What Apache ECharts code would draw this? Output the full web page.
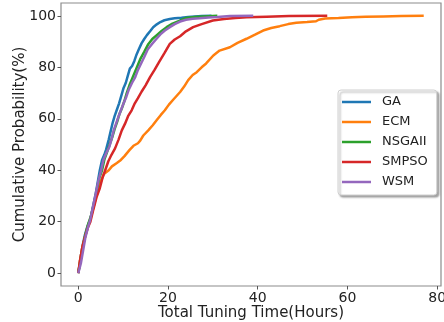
<!DOCTYPE html>
<html>
<head>
<meta charset="utf-8">
<script src="https://cdn.jsdelivr.net/npm/echarts@6/dist/echarts.min.js"></script>
<style>html,body{margin:0;padding:0;background:#fff}#c{width:444px;height:322px}</style>
</head>
<body>
<div id="c"></div>
<script>
const seriesNames = ['GA', 'ECM', 'NSGAII', 'SMPSO', 'WSM'];
const xTicks = [0, 20, 40, 60, 80];
const yTicks = [0, 20, 40, 60, 80, 100];

const gaData = [[0,0],[0.5,6],[1,11],[1.5,15],[2,18],[2.7,21],[3.3,26],[3.9,31],[4.4,36],[4.8,40],[5.3,44],[5.8,46],[6.2,48],[6.8,52],[7.2,55],[7.6,58],[8.1,61],[8.6,63.5],[9.1,66],[9.6,69],[10.1,72],[10.6,74],[11.0,76.5],[11.5,79.5],[12.0,80.5],[12.5,82.5],[13.0,85],[13.5,87],[14.1,89.3],[14.7,91],[15.3,92.5],[16,94],[16.7,95.6],[17.5,96.7],[18.3,97.6],[19.2,98.3],[20.4,98.8],[21.5,99.1],[23,99.3],[24.5,99.6],[26,99.8],[27.5,99.9],[29.7,100]];
const ecmData = [[0,0],[0.4,5],[0.9,10],[1.5,14],[2.1,18],[2.7,21],[3.3,25],[3.9,29],[4.5,33],[5.1,36],[5.7,38.5],[6.1,39],[6.8,40],[7.5,41.5],[8.6,42.8],[9.5,44],[10.3,45.5],[11.4,47.8],[12.3,49.5],[13.3,50.5],[13.8,51.5],[14.5,53.5],[15.6,55.5],[16.6,57.5],[17.5,59.5],[18.4,61.5],[19.3,63.3],[20.2,65.5],[21.2,67.5],[22.7,70.4],[23.6,72.5],[24.5,75],[25.5,77],[26.4,78.1],[27.5,80],[28.5,81.5],[30.1,84.6],[31.5,86.5],[33.8,87.8],[35.5,89.5],[37.5,91.1],[39.5,92.8],[41.2,94.3],[43,95.3],[44.9,96],[46.8,96.8],[48.6,97.3],[51,97.6],[53,97.9],[53.6,98.5],[55,99],[58,99.2],[61,99.5],[64,99.7],[68,99.8],[72,99.9],[77,100]];
const nsgaData = [[0,0],[0.5,5],[1,10],[1.6,15],[2.2,19],[2.8,22],[3.5,27],[4.1,32],[4.7,37],[5.3,40],[5.8,44],[6.4,47],[7,50],[7.6,53],[8.1,56],[8.7,59],[9.2,62],[9.7,64],[10.3,67],[10.8,70],[11.4,73],[12.1,76],[12.7,78.5],[13.3,81],[13.9,83.5],[14.7,86],[15.6,89],[16.5,91],[17.5,92.5],[18.5,94],[19.7,95.6],[21,97],[22.5,98],[24,99.2],[26,99.6],[28,99.8],[31,100]];
const smpsoData = [[0,0],[0.4,5],[0.9,10],[1.5,14],[2.1,17.5],[2.7,20],[3.4,25],[4.1,29.7],[4.8,33],[5.4,37],[6.0,40],[6.7,43.5],[7.4,46],[8.2,48.5],[9,52],[9.7,55.5],[10.4,58],[11.1,61],[11.9,63.3],[12.6,66],[13.3,68],[14.1,70.5],[15,73],[16,76.2],[17,79],[18,82],[19.2,85.5],[20.4,89.1],[21.5,90.8],[22.7,92.1],[24,94],[25.6,95.6],[27.5,96.8],[30,98.2],[32.5,98.8],[35,99.2],[37.5,99.5],[42,99.7],[47,99.9],[55.5,100]];
const wsmData = [[0,0],[0.6,4],[1.1,9],[1.6,14],[2.2,18],[2.7,21],[3.3,26],[3.9,31],[4.5,36],[5.1,40],[5.6,44],[6.2,46.5],[6.9,49],[7.4,52],[7.9,55.5],[8.5,58.5],[9,61],[9.5,63.3],[10.1,66],[10.7,68.5],[11.3,71.5],[12,74],[12.7,76.2],[13.3,79],[14,81.5],[14.7,84],[15.5,87],[16.4,89],[17.4,91],[18.3,92.8],[19.3,94.3],[20.4,95.6],[21.5,96.8],[22.7,97.8],[24,98.5],[25.5,98.9],[27,99.1],[29,99.4],[31,99.6],[33.8,99.9],[39,100]];

const allData = [gaData, ecmData, nsgaData, smpsoData, wsmData];
const colors = ['#1f77b4', '#ff7f0e', '#2ca02c', '#d62728', '#9467bd'];
const font = 'DejaVu Sans';

const chart = echarts.init(document.getElementById('c'), null, {renderer: 'canvas'});
chart.setOption({
  animation: false,
  backgroundColor: '#fff',
  color: colors,
  grid: {left: 61, right: 3, top: 3, bottom: 36, show: true, borderColor: '#8c8c8c', borderWidth: 1.2,
         backgroundColor: 'transparent', containLabel: false, outerBoundsMode: 'none'},
  legend: {
    orient: 'vertical', left: 338, top: 90,
    icon: 'rect', itemWidth: 29, itemHeight: 2.5, itemGap: 6,
    padding: [5, 9, 6, 4],
    backgroundColor: '#fff', borderColor: '#d0d0d0', borderWidth: 1, borderRadius: 3,
    shadowColor: 'rgba(0,0,0,0.35)', shadowBlur: 2, shadowOffsetX: 2, shadowOffsetY: 2,
    textStyle: {fontFamily: font, fontSize: 13, color: '#222', lineHeight: 14, padding: [0, 0, 0, 6]},
    data: seriesNames
  },
  xAxis: {
    type: 'value', min: -3.85, max: 80.85,
    name: 'Total Tuning Time(Hours)', nameLocation: 'middle', nameGap: 20, nameMoveOverlap: false,
    nameTextStyle: {fontFamily: font, fontSize: 15, color: '#222'},
    axisLine: {show: false, onZero: false},
    splitLine: {show: false},
    axisTick: {show: true, length: 3.5, lineStyle: {color: '#555'}, customValues: xTicks},
    axisLabel: {fontFamily: font, fontSize: 14, color: '#222', margin: 5, customValues: xTicks}
  },
  yAxis: {
    type: 'value', min: -5, max: 105,
    name: 'Cumulative Probability(%)', nameLocation: 'middle', nameGap: 33, nameMoveOverlap: false,
    nameTextStyle: {fontFamily: font, fontSize: 15, color: '#222'},
    axisLine: {show: false, onZero: false},
    splitLine: {show: false},
    axisTick: {show: true, length: 3.5, lineStyle: {color: '#555'}, customValues: yTicks},
    axisLabel: {fontFamily: font, fontSize: 14, color: '#222', margin: 5, customValues: yTicks}
  },
  series: seriesNames.map((n, i) => ({
    name: n, type: 'line', data: allData[i], showSymbol: false, symbol: 'none',
    lineStyle: {width: 2.5, color: colors[i]}, itemStyle: {color: colors[i]}, z: 2 + i
  }))
});
</script>
</body>
</html>
